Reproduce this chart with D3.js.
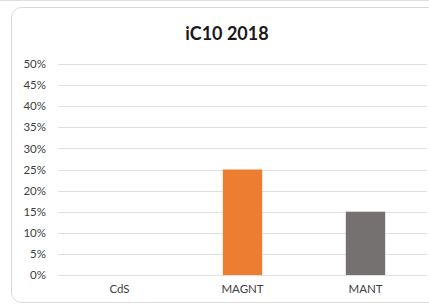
<!DOCTYPE html>
<html lang="en">
<head>
<meta charset="utf-8">
<title>iC10 2018</title>
<style>
  body { margin: 0; background: white; }
  svg { display: block; font-family: Lato, "Open Sans", sans-serif; }
</style>
<script src="https://d3js.org/d3.v7.min.js"></script>
</head>
<body>
<script>
let categories = ["CdS", "MAGNT", "MANT"]
let values = [0, 0.25, 0.15]
let barColors = ["#4472C4", "#ED7D31", "#767171"]
let yTicks = [0, 0.05, 0.1, 0.15, 0.2, 0.25, 0.3, 0.35, 0.4, 0.45, 0.5]

let width = 429
let height = 305

let svg = d3.select("body").append("svg")
    .attr("width", width)
    .attr("height", height)

// frame
svg.append("line")
    .attr("x1", 0).attr("x2", width)
    .attr("y1", 0.5).attr("y2", 0.5)
    .attr("stroke", "#e0e0e0")

svg.append("rect")
    .attr("x", 11.5).attr("y", 7.5)
    .attr("width", 440).attr("height", 295)
    .attr("rx", 10)
    .attr("fill", "white")
    .attr("stroke", "#d9d9d9")

svg.append("text")
    .attr("x", 227).attr("y", 40)
    .attr("text-anchor", "middle")
    .attr("font-size", 18)
    .attr("font-weight", "bold")
    .attr("fill", "#1a1a1a")
    .text("iC10 2018")

let x = d3.scaleBand()
    .domain(categories)
    .range([58, 427])
    .paddingInner(0.68)
    .paddingOuter(0.34)

let y = d3.scaleLinear()
    .domain([0, 0.5])
    .range([275, 64])

// gridlines
svg.append("g")
    .selectAll("line")
    .data(yTicks)
    .join("line")
    .attr("x1", 58).attr("x2", 427)
    .attr("y1", d => Math.round(y(d)) + 0.5)
    .attr("y2", d => Math.round(y(d)) + 0.5)
    .attr("stroke", "#e0e0e0")

let yAxis = svg.append("g")
    .attr("transform", "translate(46,0)")
    .call(d3.axisLeft(y).tickValues(yTicks).tickFormat(d3.format(".0%")).tickSize(0).tickPadding(0))
yAxis.select(".domain").remove()
yAxis.selectAll("text")
    .attr("font-size", 11.5)
    .attr("font-family", "Lato, 'Open Sans', sans-serif")
    .attr("fill", "#404040")

// bars
svg.append("g")
    .selectAll("rect")
    .data(values)
    .join("rect")
    .attr("x", (d, i) => x(categories[i]))
    .attr("y", d => y(d))
    .attr("width", x.bandwidth())
    .attr("height", d => y(0) - y(d))
    .attr("fill", (d, i) => barColors[i])

let xAxis = svg.append("g")
    .attr("transform", "translate(0,285)")
    .call(d3.axisBottom(x).tickSize(0).tickPadding(0))
xAxis.select(".domain").remove()
xAxis.selectAll("text")
    .attr("font-size", 11.5)
    .attr("font-family", "Lato, 'Open Sans', sans-serif")
    .attr("fill", "#404040")
</script>
</body>
</html>
